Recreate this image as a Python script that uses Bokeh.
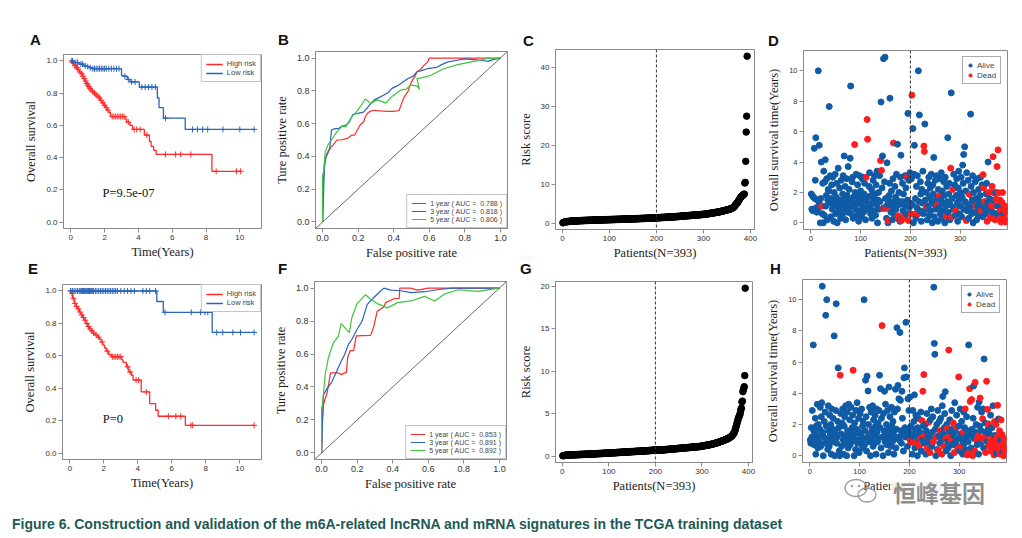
import numpy as np
from bokeh.plotting import figure
from bokeh.layouts import column, row
from bokeh.models import (Range1d, FixedTicker, NumeralTickFormatter, Legend, LegendItem,
                          Span, Slope, Label, Div, ColumnDataSource)
from bokeh.embed import file_html
from bokeh.resources import INLINE

# ---------------------------------------------------------------- data
# A: Kaplan-Meier (training set, lncRNA signature)
a_high_t = [0, 0.08, 0.15, 0.22, 0.3, 0.38, 0.45, 0.52, 0.6, 0.68, 0.75, 0.82, 0.9, 0.97, 1.03, 1.1,
            1.18, 1.25, 1.35, 1.45, 1.55, 1.65, 1.75, 1.85, 1.95, 2.05, 2.15, 2.25, 2.35, 3.2, 3.3,
            3.5, 3.65, 4.35, 4.65, 4.75, 4.9, 5.05, 8.35]
a_high_s = [1.0, 0.99, 0.98, 0.97, 0.96, 0.95, 0.94, 0.93, 0.92, 0.905, 0.89, 0.875, 0.86, 0.85, 0.84,
            0.83, 0.82, 0.81, 0.80, 0.79, 0.78, 0.77, 0.755, 0.74, 0.725, 0.71, 0.695, 0.68, 0.655,
            0.64, 0.62, 0.60, 0.575, 0.54, 0.50, 0.47, 0.445, 0.42, 0.315]
a_high_end = 10.05
a_high_cens = [0.05, 0.12, 0.25, 0.35, 0.42, 0.55, 0.65, 0.72, 0.8, 0.88, 0.95, 1.0, 1.07, 1.13, 1.2,
               1.3, 1.4, 1.5, 1.6, 1.7, 1.8, 1.9, 2.0, 2.1, 2.2, 2.45, 2.55, 2.65, 2.75, 2.85, 2.95,
               3.05, 3.15, 3.4, 3.75, 3.9, 4.1, 4.5, 5.6, 6.2, 6.5, 7.1, 8.6, 9.8, 10.05]
a_low_t = [0, 0.2, 0.5, 0.75, 0.95, 1.1, 1.25, 3.0, 3.1, 3.35, 3.5, 4.05, 5.12, 5.22, 5.48, 6.77]
a_low_s = [1.0, 0.99, 0.98, 0.97, 0.965, 0.958, 0.952, 0.91, 0.905, 0.885, 0.87, 0.838, 0.77, 0.71,
           0.645, 0.575]
a_low_end = 10.85
a_low_cens = [0.1, 0.3, 0.4, 0.6, 0.7, 0.85, 1.0, 1.15, 1.3, 1.4, 1.5, 1.6, 1.7, 1.8, 1.9, 2.0, 2.1,
              2.25, 2.4, 2.55, 2.7, 2.85, 3.2, 3.4, 3.6, 3.8, 4.2, 4.4, 4.6, 4.8, 5.0, 5.6, 7.2, 7.5,
              7.8, 8.1, 9.0, 10.0, 10.85]
a_pvalue = "P=9.5e-07"

# E: Kaplan-Meier (training set, mRNA signature)
e_high_t = [0, 0.08, 0.16, 0.26, 0.36, 0.46, 0.56, 0.65, 0.75, 0.85, 0.95, 1.05, 1.15, 1.25, 1.37,
            1.49, 1.62, 1.74, 1.84, 1.94, 2.04, 2.14, 2.28, 2.44, 3.05, 3.13, 3.33, 3.47, 3.62, 3.72,
            4.2, 4.7, 5.05, 5.2, 6.8]
e_high_s = [1.0, 0.985, 0.955, 0.924, 0.905, 0.889, 0.87, 0.852, 0.836, 0.82, 0.80, 0.78, 0.766,
            0.753, 0.74, 0.728, 0.715, 0.703, 0.685, 0.666, 0.648, 0.629, 0.608, 0.594, 0.575, 0.559,
            0.532, 0.50, 0.48, 0.45, 0.377, 0.305, 0.264, 0.227, 0.171]
e_high_end = 10.85
e_high_cens = [0.05, 0.12, 0.2, 0.3, 0.4, 0.5, 0.6, 0.7, 0.8, 0.9, 1.0, 1.1, 1.2, 1.3, 1.4, 1.55, 1.7,
               1.9, 2.2, 2.5, 2.6, 2.7, 2.8, 2.9, 3.0, 3.4, 3.55, 3.9, 4.05, 4.5, 5.8, 6.24, 6.53,
               7.13, 7.23, 10.85]
e_low_t = [0, 5.12, 5.5, 8.38]
e_low_s = [1.0, 0.935, 0.868, 0.744]
e_low_end = 10.85
e_low_cens = [0.05, 0.15, 0.25, 0.35, 0.45, 0.55, 0.6, 0.65, 0.7, 0.75, 0.8, 0.85, 0.9, 0.95, 1.0,
              1.05, 1.1, 1.15, 1.2, 1.25, 1.3, 1.35, 1.4, 1.5, 1.6, 1.7, 1.8, 1.9, 2.0, 2.1, 2.2, 2.3,
              2.4, 2.5, 2.6, 2.7, 2.8, 3.0, 3.2, 3.4, 3.6, 3.8, 4.3, 4.5, 4.7, 5.05, 5.6, 7.15, 7.7,
              7.95, 8.12, 8.65, 9.0, 9.6, 10.05, 10.85]
e_pvalue = "P=0"

km_labels = ["High risk", "Low risk"]

# B: time-dependent ROC
b_auc = [0.788, 0.818, 0.806]
b1_fpr = [0, 0.004, 0.008, 0.012, 0.02, 0.03, 0.05, 0.06, 0.08, 0.10, 0.14, 0.165, 0.18, 0.20, 0.21,
          0.23, 0.24, 0.25, 0.26, 0.28, 0.30, 0.36, 0.40, 0.43, 0.44, 0.45, 0.46, 0.47, 0.48, 0.49,
          0.50, 0.52, 0.53, 0.55, 0.57, 0.59, 0.60, 0.64, 0.68, 0.72, 0.78, 0.85, 0.92, 1.0]
b1_tpr = [0, 0.25, 0.30, 0.38, 0.40, 0.43, 0.46, 0.47, 0.50, 0.50, 0.51, 0.53, 0.53, 0.57, 0.59, 0.61,
          0.64, 0.66, 0.67, 0.68, 0.68, 0.675, 0.675, 0.68, 0.71, 0.74, 0.765, 0.78, 0.795, 0.83,
          0.855, 0.89, 0.915, 0.93, 0.955, 0.975, 1.0, 1.0, 1.0, 1.0, 1.0, 1.0, 1.0, 1.0]
b3_fpr = [0, 0.005, 0.008, 0.012, 0.02, 0.03, 0.04, 0.05, 0.07, 0.09, 0.11, 0.13, 0.15, 0.17, 0.19,
          0.21, 0.23, 0.25, 0.27, 0.29, 0.32, 0.345, 0.37, 0.39, 0.42, 0.44, 0.46, 0.48, 0.51, 0.53,
          0.56, 0.59, 0.62, 0.645, 0.67, 0.70, 0.75, 0.80, 0.85, 0.90, 0.93, 0.96, 1.0]
b3_tpr = [0, 0.15, 0.28, 0.35, 0.40, 0.42, 0.45, 0.56, 0.57, 0.57, 0.585, 0.59, 0.61, 0.655, 0.66,
          0.665, 0.67, 0.695, 0.72, 0.745, 0.76, 0.775, 0.79, 0.815, 0.83, 0.845, 0.86, 0.875, 0.89,
          0.915, 0.925, 0.935, 0.94, 0.945, 0.96, 0.975, 0.985, 0.995, 0.99, 0.985, 0.98, 0.99, 1.0]
b5_fpr = [0, 0.0, 0.005, 0.015, 0.03, 0.05, 0.08, 0.11, 0.13, 0.155, 0.17, 0.185, 0.21, 0.24, 0.27,
          0.31, 0.355, 0.39, 0.44, 0.47, 0.495, 0.53, 0.545, 0.53, 0.58, 0.61, 0.68, 0.76, 0.83,
          0.88, 0.93, 0.96, 1.0]
b5_tpr = [0, 0.29, 0.30, 0.43, 0.47, 0.50, 0.55, 0.585, 0.58, 0.625, 0.65, 0.665, 0.70, 0.75, 0.725,
          0.745, 0.725, 0.765, 0.805, 0.81, 0.835, 0.83, 0.81, 0.875, 0.885, 0.895, 0.935, 0.96,
          0.975, 0.985, 1.0, 0.995, 1.0]

# F: time-dependent ROC
f_auc = [0.853, 0.891, 0.892]
f1_fpr = [0, 0.004, 0.01, 0.02, 0.03, 0.04, 0.05, 0.095, 0.11, 0.14, 0.146, 0.16, 0.18, 0.195, 0.275,
          0.285, 0.294, 0.313, 0.35, 0.36, 0.41, 0.436, 0.44, 0.50, 0.54, 0.60, 0.73, 0.85, 1.0]
f1_tpr = [0, 0.19, 0.29, 0.33, 0.36, 0.42, 0.485, 0.485, 0.475, 0.49, 0.576, 0.62, 0.62, 0.71, 0.713,
          0.74, 0.77, 0.86, 0.886, 0.912, 0.937, 0.937, 1.0, 1.0, 0.988, 1.0, 1.0, 1.0, 1.0]
f3_fpr = [0, 0.004, 0.01, 0.03, 0.057, 0.085, 0.11, 0.13, 0.15, 0.17, 0.2, 0.228, 0.256, 0.294, 0.323,
          0.35, 0.39, 0.446, 0.503, 0.58, 0.65, 0.73, 0.85, 1.0]
f3_tpr = [0, 0.15, 0.35, 0.39, 0.43, 0.495, 0.556, 0.597, 0.657, 0.688, 0.75, 0.80, 0.90, 0.943,
          0.973, 1.0, 0.988, 0.984, 0.973, 0.978, 0.99, 1.0, 1.0, 1.0]
f5_fpr = [0, 0.0, 0.004, 0.02, 0.038, 0.066, 0.095, 0.11, 0.156, 0.17, 0.2, 0.247, 0.275, 0.313, 0.37,
          0.427, 0.503, 0.58, 0.636, 0.69, 0.77, 0.88, 1.0]
f5_tpr = [0, 0.28, 0.28, 0.475, 0.576, 0.668, 0.71, 0.784, 0.73, 0.82, 0.906, 0.96, 0.932, 0.906,
          0.88, 0.912, 0.922, 0.95, 0.922, 0.963, 0.99, 0.98, 1.0]

roc_years = [1, 3, 5]

# C: sorted risk score, 393 patients
c_risk = [
    0.20, 0.28, 0.33, 0.37, 0.40, 0.43, 0.45, 0.47, 0.49, 0.51, 0.52, 0.54, 0.55, 0.56, 0.58, 0.59, 0.60, 0.61, 0.62, 0.63,
    0.64, 0.65, 0.66, 0.66, 0.67, 0.68, 0.69, 0.69, 0.70, 0.71, 0.71, 0.72, 0.73, 0.73, 0.74, 0.74, 0.75, 0.76, 0.76, 0.77,
    0.77, 0.78, 0.78, 0.79, 0.79, 0.80, 0.80, 0.81, 0.81, 0.82, 0.82, 0.83, 0.83, 0.84, 0.84, 0.85, 0.85, 0.85, 0.86, 0.86,
    0.87, 0.87, 0.88, 0.88, 0.88, 0.89, 0.89, 0.90, 0.90, 0.90, 0.91, 0.91, 0.92, 0.92, 0.92, 0.93, 0.93, 0.94, 0.94, 0.94,
    0.95, 0.95, 0.96, 0.96, 0.96, 0.97, 0.97, 0.98, 0.98, 0.98, 0.99, 0.99, 1.00, 1.00, 1.00, 1.01, 1.01, 1.02, 1.02, 1.02,
    1.03, 1.03, 1.04, 1.04, 1.04, 1.05, 1.05, 1.06, 1.06, 1.06, 1.07, 1.07, 1.08, 1.08, 1.08, 1.09, 1.09, 1.10, 1.10, 1.10,
    1.11, 1.11, 1.12, 1.12, 1.12, 1.13, 1.13, 1.14, 1.14, 1.14, 1.15, 1.15, 1.16, 1.16, 1.16, 1.17, 1.17, 1.18, 1.18, 1.18,
    1.19, 1.19, 1.20, 1.20, 1.20, 1.21, 1.21, 1.22, 1.22, 1.22, 1.23, 1.23, 1.24, 1.24, 1.25, 1.25, 1.26, 1.26, 1.27, 1.27,
    1.28, 1.28, 1.29, 1.29, 1.30, 1.30, 1.31, 1.31, 1.32, 1.32, 1.33, 1.33, 1.34, 1.34, 1.35, 1.35, 1.36, 1.36, 1.37, 1.37,
    1.38, 1.38, 1.39, 1.39, 1.40, 1.40, 1.41, 1.42, 1.42, 1.43, 1.43, 1.44, 1.45, 1.45, 1.46, 1.46, 1.47, 1.48, 1.48, 1.49,
    1.50, 1.50, 1.51, 1.52, 1.52, 1.53, 1.54, 1.54, 1.55, 1.56, 1.56, 1.57, 1.58, 1.58, 1.59, 1.60, 1.60, 1.61, 1.62, 1.62,
    1.63, 1.64, 1.65, 1.65, 1.66, 1.67, 1.68, 1.68, 1.69, 1.70, 1.71, 1.71, 1.72, 1.73, 1.74, 1.75, 1.75, 1.76, 1.77, 1.78,
    1.79, 1.80, 1.80, 1.81, 1.82, 1.83, 1.84, 1.85, 1.86, 1.87, 1.88, 1.89, 1.90, 1.91, 1.92, 1.93, 1.94, 1.95, 1.96, 1.97,
    1.98, 1.99, 2.00, 2.01, 2.02, 2.03, 2.04, 2.05, 2.06, 2.07, 2.08, 2.09, 2.10, 2.11, 2.12, 2.13, 2.14, 2.15, 2.16, 2.17,
    2.18, 2.19, 2.20, 2.21, 2.22, 2.23, 2.24, 2.25, 2.26, 2.27, 2.28, 2.29, 2.30, 2.31, 2.32, 2.33, 2.34, 2.35, 2.36, 2.38,
    2.39, 2.41, 2.42, 2.44, 2.45, 2.47, 2.48, 2.50, 2.52, 2.54, 2.56, 2.58, 2.60, 2.62, 2.64, 2.66, 2.68, 2.70, 2.72, 2.74,
    2.76, 2.78, 2.80, 2.82, 2.84, 2.86, 2.88, 2.90, 2.92, 2.94, 2.96, 2.98, 3.00, 3.03, 3.06, 3.09, 3.12, 3.15, 3.18, 3.21,
    3.24, 3.27, 3.30, 3.33, 3.36, 3.39, 3.42, 3.45, 3.48, 3.51, 3.54, 3.57, 3.60, 3.64, 3.68, 3.72, 3.76, 3.80, 3.85, 3.90,
    3.96, 4.02, 4.10, 4.20, 4.30, 4.45, 4.60, 4.75, 4.90, 5.05, 5.20, 5.35, 5.50, 5.70, 5.90, 6.10, 6.30, 6.50, 6.70, 6.90,
    7.00, 7.10, 7.20, 7.30, 7.40, 7.50, 7.60, 10.40, 10.60, 16.00, 23.50, 27.60, 43.00]

# G: sorted risk score, 393 patients
g_risk = [
    0.05, 0.07, 0.08, 0.09, 0.10, 0.10, 0.11, 0.11, 0.12, 0.12, 0.13, 0.13, 0.13, 0.14, 0.14, 0.14, 0.15, 0.15, 0.15, 0.16,
    0.16, 0.16, 0.16, 0.17, 0.17, 0.17, 0.17, 0.18, 0.18, 0.18, 0.18, 0.19, 0.19, 0.19, 0.19, 0.20, 0.20, 0.20, 0.20, 0.21,
    0.21, 0.21, 0.21, 0.22, 0.22, 0.22, 0.22, 0.23, 0.23, 0.23, 0.23, 0.24, 0.24, 0.24, 0.24, 0.25, 0.25, 0.25, 0.25, 0.26,
    0.26, 0.26, 0.26, 0.27, 0.27, 0.27, 0.28, 0.28, 0.28, 0.28, 0.29, 0.29, 0.29, 0.30, 0.30, 0.30, 0.30, 0.31, 0.31, 0.31,
    0.32, 0.32, 0.32, 0.32, 0.33, 0.33, 0.33, 0.34, 0.34, 0.34, 0.34, 0.35, 0.35, 0.35, 0.36, 0.36, 0.36, 0.37, 0.37, 0.37,
    0.38, 0.38, 0.38, 0.39, 0.39, 0.39, 0.40, 0.40, 0.40, 0.41, 0.41, 0.41, 0.42, 0.42, 0.42, 0.43, 0.43, 0.43, 0.44, 0.44,
    0.44, 0.45, 0.45, 0.45, 0.46, 0.46, 0.46, 0.47, 0.47, 0.47, 0.48, 0.48, 0.48, 0.49, 0.49, 0.49, 0.50, 0.50, 0.50, 0.51,
    0.51, 0.51, 0.52, 0.52, 0.52, 0.53, 0.53, 0.53, 0.54, 0.54, 0.54, 0.55, 0.55, 0.55, 0.56, 0.56, 0.56, 0.57, 0.57, 0.57,
    0.58, 0.58, 0.58, 0.59, 0.59, 0.59, 0.60, 0.60, 0.60, 0.61, 0.61, 0.61, 0.62, 0.62, 0.62, 0.63, 0.63, 0.63, 0.64, 0.64,
    0.64, 0.65, 0.65, 0.66, 0.66, 0.66, 0.67, 0.67, 0.68, 0.68, 0.68, 0.69, 0.69, 0.70, 0.70, 0.71, 0.71, 0.71, 0.72, 0.72,
    0.72, 0.72, 0.72, 0.72, 0.72, 0.73, 0.73, 0.73, 0.73, 0.73,
    0.73, 0.73, 0.74, 0.74, 0.74, 0.75, 0.75, 0.76, 0.76, 0.77, 0.77, 0.78, 0.78, 0.79, 0.79, 0.80, 0.80, 0.81, 0.81, 0.82,
    0.82, 0.83, 0.83, 0.84, 0.84, 0.85, 0.85, 0.86, 0.86, 0.87, 0.87, 0.88, 0.88, 0.89, 0.89, 0.90, 0.90, 0.91, 0.91, 0.92,
    0.92, 0.93, 0.93, 0.94, 0.94, 0.95, 0.95, 0.96, 0.96, 0.97, 0.97, 0.98, 0.98, 0.99, 0.99, 1.00, 1.00, 1.01, 1.01, 1.02,
    1.02, 1.03, 1.03, 1.04, 1.04, 1.05, 1.05, 1.06, 1.06, 1.07, 1.07, 1.08, 1.08, 1.09, 1.09, 1.10, 1.10, 1.11, 1.11, 1.12,
    1.12, 1.13, 1.13, 1.14, 1.14, 1.15, 1.16, 1.17, 1.18, 1.19, 1.20, 1.21, 1.22, 1.23, 1.24, 1.25, 1.26, 1.27, 1.28, 1.29,
    1.30, 1.31, 1.32, 1.33, 1.34, 1.35, 1.36, 1.37, 1.38, 1.40, 1.41, 1.42, 1.44, 1.45, 1.47, 1.48, 1.50, 1.51, 1.53, 1.54,
    1.56, 1.57, 1.59, 1.61, 1.63, 1.65, 1.67, 1.69, 1.71, 1.73, 1.75, 1.77, 1.79, 1.81, 1.83, 1.85, 1.87, 1.89, 1.92, 1.94,
    1.96, 1.98, 2.01, 2.03, 2.06, 2.09, 2.12, 2.15, 2.18, 2.21, 2.25, 2.29, 2.33, 2.38, 2.44, 2.50, 2.58, 2.66, 2.75, 2.85,
    3.00, 3.20, 3.40, 3.60, 3.80, 4.00, 4.20, 4.40, 4.55, 4.70, 4.80, 5.00, 5.30, 5.60, 5.65, 6.40, 6.50, 7.60, 7.80, 8.00,
    8.20, 9.50, 19.80]

# D: survival time per patient (ordered by risk) and status (1 = dead)
d_time = [
    1.9, 0.9, 1.8, 0.8, 1.7, 0.9, 4.9, 1.6, 2.8, 5.6, 1.0, 0.7, 1.5, 0.8, 10.0, 1.4, 5.1, 1.2, 0.0, 1.6,
    4.0, 1.1, 0.6, 2.6, 0.0, 3.4, 0.5, 2.7, 4.15, 1.1, 1.8, 2.9, 0.2, 1.5, 2.2, 2.1, 7.65, 1.3, 3.1, 0.4,
    1.6, 2.5, 0.9, 3.0, 1.2, 0.1, 2.0, 1.4, 3.2, 0.6, 1.7, 2.6, 0.0, 1.1, 3.6, 0.8, 1.5, 2.3, 1.0, 0.3,
    2.8, 1.3, 0.5, 1.9, 3.1, 0.9, 4.4, 1.6, 2.4, 0.2, 1.2, 2.9, 1.8, 0.7, 3.7, 1.5, 2.2, 1.0, 4.25, 9.0,
    0.6, 1.4, 2.7, 3.0, 0.3, 1.7, 1.1, 5.15, 2.0, 0.9, 3.2, 1.3, 0.5, 2.5, 1.8, 0.1, 1.6, 3.1, 0.8, 2.1,
    1.2, 0.4, 2.9, 1.5, 3.0, 0.7, 1.9, 2.6, 1.0, 0.2, 3.0, 1.4, 6.8, 5.5, 1.7, 0.9, 2.4, 3.3, 1.1, 0.6,
    1.8, 2.2, 0.3, 1.3, 2.8, 1.6, 0.8, 3.1, 1.9, 0.5, 2.5, 1.2, 3.4, 0.0, 1.5, 2.0, 0.9, 3.1, 1.4, 4.1,
    7.95, 3.45, 2.3, 4.4, 0.95, 10.8, 1.0, 2.7, 10.9, 1.6, 0.95, 0.3, 3.95, 1.2, 0.0, 0.15, 1.8, 2.6, 8.2, 1.4,
    0.7, 2.1, 1.1, 0.2, 2.9, 5.25, 1.3, 0.5, 2.4, 1.7, 0.9, 3.2, 1.5, 5.17, 0.47, 0.26, 2.0, 1.2, 0.1, 3.0,
    4.45, 0.15, 1.4, 2.6, 0.8, 1.9, 0.4, 0.37, 3.1, 1.1, 2.3, 0.6, 3.0, 1.5, 7.2, 0.15, 2.8, 1.0, 3.3, 1.3,
    0.58, 2.9, 8.4, 1.2, 6.2, 0.0, 3.2, 5.1, 0.58, 1.6, 0.3, 2.4, 1.0, 3.1, 0.58, 10.0, 1.4, 7.1, 0.8, 2.7,
    1.9, 0.1, 2.2, 1.3, 3.4, 0.6, 5.05, 4.7, 6.5, 1.5, 0.9, 2.0, 1.08, 0.2, 2.6, 1.1, 3.0, 0.5, 1.7, 2.3,
    0.8, 3.2, 1.4, 0.0, 2.5, 1.9, 4.3, 0.4, 1.2, 2.8, 0.9, 3.1, 1.6, 1.16, 0.1, 2.2, 1.0, 1.77, 2.9, 0.6,
    1.5, 3.3, 0.3, 2.1, 1.3, 0.8, 2.7, 1.8, 0.0, 3.0, 1.1, 0.43, 2.4, 1.4, 5.6, 0.7, 1.9, 2.6, 0.2, 1.2,
    3.6, 8.55, 0.37, 1.6, 2.2, 0.9, 3.2, 1.0, 2.5, 0.5, 0.84, 1.8, 2.9, 1.3, 0.1, 2.3, 3.4, 1.5, 0.6, 2.0,
    1.1, 3.0, 0.4, 1.7, 3.8, 2.6, 4.5, 0.9, 5.0, 1.4, 2.1, 0.15, 3.3, 0.8, 1.2, 2.8, 0.3, 1.9, 1.87, 1.0,
    7.15, 2.4, 0.6, 1.5, 3.1, 0.0, 2.0, 1.3, 0.7, 2.7, 1.12, 1.6, 0.2, 2.9, 1.1, 0.5, 2.2, 1.4, 0.9, 1.8,
    3.0, 0.8, 1.2, 2.5, 0.4, 3.17, 2.3, 1.0, 1.4, 9.78, 0.6, 1.9, 2.6, 0.1, 1.3, 4.0, 0.9, 2.0, 1.6, 0.3,
    1.1, 0.43, 1.12, 2.4, 0.7, 4.35, 1.5, 1.98, 1.12, 0.2, 2.0, 1.55, 0.6, 3.7, 1.1, 4.8, 1.98, 0.4, 0.26, 1.5,
    0.8, 0.05, 1.2, 1.34, 2.0, 0.47, 0.6, 0.9, 0.26, 1.1, 0.05, 0.7, 0.8]
d_status = ("00000000000000000000" "01000000000000000000" "00000000000000000000" "00000000000000000000"
            "00000001000000000000" "00000000001011000000" "00000000000000000001" "01001000001000010000"
            "00000100000000110000" "01000001000010010000" "10100000100000100000" "00000011000010000000"
            "00000000000001000100" "00000000000100000000" "10101000001000000000" "00000000000100000010"
            "00000000001000000000" "01000110100001000101" "01110101110101011011" "1101110111111")

# H: survival time per patient (ordered by risk) and status (1 = dead)
h_time = [
    1.0, 0.8, 1.8, 1.2, 2.9, 0.9, 7.1, 1.6, 0.7, 1.4, 2.4, 0.1, 1.9, 1.1, 3.3, 0.5, 2.0, 1.3, 0.9, 1.7,
    3.1, 0.6, 2.5, 3.4, 10.86, 1.5, 0.0, 1.2, 2.2, 0.8, 2.8, 9.0, 1.9, 10.0, 1.0, 0.4, 3.2, 1.6, 0.6, 2.6,
    1.3, 2.0, 0.1, 3.0, 0.9, 1.7, 2.4, 1.1, 7.68, 0.0, 1.5, 2.9, 9.74, 0.8, 1.2, 2.2, 5.63, 1.8, 0.3, 0.0,
    5.16, 2.7, 1.4, 0.6, 2.1, 3.0, 1.0, 0.1, 1.9, 2.5, 0.8, 3.2, 1.3, 0.0, 2.8, 1.6, 0.5, 3.3, 1.1, 2.3,
    0.7, 1.5, 3.1, 0.9, 1.8, 2.6, 5.48, 1.2, 0.0, 2.1, 1.4, 0.4, 2.9, 1.7, 3.4, 0.8, 1.0, 2.4, 0.2, 1.5,
    2.7, 0.9, 1.3, 3.0, 0.5, 1.9, 2.2, 1.1, 10.0, 0.7, 1.6, 4.84, 2.5, 0.3, 5.1, 1.2, 4.15, 2.0, 0.9, 3.1,
    1.4, 0.0, 2.8, 1.0, 1.7, 3.2, 0.6, 2.3, 1.3, 0.8, 2.6, 1.9, 0.1, 3.0, 1.5, 0.9, 2.1, 1.1, 2.9, 5.16,
    1.8, 4.3, 0.5, 2.4, 8.34, 1.2, 0.0, 2.7, 1.6, 4.13, 0.9, 3.3, 1.4, 2.0, 0.7, 2.9, 1.0, 0.2, 4.4, 1.7,
    2.5, 1.3, 0.6, 3.1, 1.9, 0.9, 2.2, 1.5, 0.1, 2.8, 1.1, 4.26, 0.5, 1.7, 8.2, 3.0, 4.5, 1.2, 3.65, 1.0,
    7.9, 3.55, 1.6, 0.8, 4.13, 2.4, 1.4, 0.3, 5.0, 5.63, 1.8, 1.2, 8.55, 5.05, 1.5, 0.6, 3.65, 1.7, 2.9, 1.1,
    3.76, 0.97, 1.9, 0.86, 1.4, 0.1, 2.9, 1.2, 2.2, 3.9, 0.5, 1.7, 2.6, 0.9, 1.3, 0.0, 1.8, 2.4, 1.1, 0.6,
    1.5, 1.07, 2.8, 0.3, 2.25, 1.0, 4.13, 1.9, 5.2, 0.8, 1.3, 2.0, 0.1, 1.6, 2.7, 0.5, 1.2, 0.9, 2.15, 1.4,
    0.2, 2.3, 1.1, 3.0, 0.6, 1.5, 2.5, 0.9, 10.8, 7.2, 6.5, 1.7, 0.0, 1.2, 2.0, 0.4, 2.9, 0.35, 1.3, 2.2,
    0.8, 1.6, 2.4, 1.0, 0.1, 3.2, 3.8, 1.4, 0.6, 1.8, 2.7, 4.1, 1.1, 0.3, 2.0, 1.75, 0.9, 0.5, 6.77, 1.5,
    2.3, 1.2, 0.0, 1.0, 2.9, 1.7, 0.7, 2.1, 1.3, 0.2, 3.4, 1.6, 0.9, 1.85, 2.6, 0.6, 1.1, 0.45, 5.05, 1.9,
    0.3, 3.0, 1.4, 0.6, 2.2, 1.0, 0.1, 1.5, 2.8, 0.8, 1.8, 3.0, 0.4, 1.2, 2.5, 0.05, 1.6, 0.9, 7.1, 0.2,
    4.3, 3.48, 1.3, 0.5, 3.6, 1.7, 0.0, 2.4, 4.47, 1.1, 0.3, 4.7, 1.5, 2.0, 1.0, 0.7, 3.1, 1.3, 0.1, 3.45,
    1.9, 3.7, 0.8, 1.6, 2.8, 1.1, 2.37, 3.0, 0.5, 6.2, 1.2, 2.1, 0.2, 1.5, 4.77, 0.9, 2.97, 1.7, 2.04, 0.6,
    1.4, 0.9, 2.6, 0.3, 1.1, 1.8, 0.7, 3.2, 1.0, 0.05, 2.2, 1.3, 0.5, 2.0, 0.15, 1.2, 3.23, 0.8, 2.36, 0.4,
    1.6, 0.1, 1.0, 2.3, 0.5, 1.35, 0.2, 0.8, 0.0, 1.1, 0.45, 0.3, 0.6]
h_status = ("00000000000000000000" "00000000000000000000" "00000000000000000000" "10000000000000000000"
            "00000010000000000000" "00000000000000000000" "00000000000000000000" "00001000000000000000"
            "00000000000000000000" "00000000000000000000" "01010000000001000001" "01001010101000010010"
            "10000001000001000100" "01001000100010010010" "01010001010001000110" "00010001000100010001"
            "11001010001100100100" "01000110001010101011" "01011010111011011101" "1101110111111")

status_labels = ["Alive", "Dead"]
risk_cutoff = 200

# axis ticks
km_xticks = [0, 2, 4, 6, 8, 10]
unit_ticks = [0.0, 0.2, 0.4, 0.6, 0.8, 1.0]
pat_ticks_c = [0, 100, 200, 300, 400]
pat_ticks_d = [0, 100, 200, 300]
c_yticks = [0, 10, 20, 30, 40]
g_yticks = [0, 5, 10, 15, 20]
os_yticks = [0, 2, 4, 6, 8, 10]

panel_letters = ["A", "B", "C", "D", "E", "F", "G", "H"]
caption = ("Figure 6. Construction and validation of the m6A-related lncRNA and mRNA "
           "signatures in the TCGA training dataset")
watermark = "恒峰基因"

# ---------------------------------------------------------------- style
SANS = "Liberation Sans"
SERIF = "Liberation Serif"
GRAY = "#8a8a8a"
RED = "#ff2a2a"
BLUE = "#2a64b8"
GREEN = "#3ec43e"
PT_BLUE = "#0f5ba6"
PT_RED = "#ff1c1c"


def rng(lo, hi):
    d = (hi - lo) * 0.04
    return Range1d(lo - d, hi + d)


def base(w, h, l, r, t, b, xr, yr, xticks, yticks, xlabel, ylabel, tick_fs,
         unit_fmt_x=False, unit_fmt_y=False):
    p = figure(width=w, height=h, x_range=xr, y_range=yr, output_backend="svg",
               toolbar_location=None, min_border_left=l, min_border_right=r,
               min_border_top=t, min_border_bottom=b)
    p.grid.visible = False
    p.outline_line_color = GRAY
    p.outline_line_width = 1
    p.outline_line_alpha = 1
    p.background_fill_color = "white"
    p.border_fill_color = "white"
    p.xaxis.ticker = FixedTicker(ticks=xticks)
    p.yaxis.ticker = FixedTicker(ticks=yticks)
    if unit_fmt_x:
        p.xaxis.formatter = NumeralTickFormatter(format="0.0")
    if unit_fmt_y:
        p.yaxis.formatter = NumeralTickFormatter(format="0.0")
    p.xaxis.axis_label = xlabel
    p.yaxis.axis_label = ylabel
    for ax in (p.xaxis, p.yaxis):
        ax.axis_line_color = GRAY
        ax.major_tick_line_color = GRAY
        ax.minor_tick_line_color = None
        ax.major_tick_out = 4
        ax.major_tick_in = 0
        ax.major_label_text_font = SANS
        ax.major_label_text_font_size = tick_fs
        ax.major_label_text_color = "#333333"
        ax.axis_label_text_font = SERIF
        ax.axis_label_text_font_size = "12.5px"
        ax.axis_label_text_font_style = "normal"
        ax.axis_label_text_color = "#1a1a1a"
    p.xaxis.major_label_standoff = 2
    p.xaxis.axis_label_standoff = 2
    p.yaxis.major_label_standoff = 2
    p.yaxis.axis_label_standoff = 5
    return p


def km_curve(p, times, surv, end, cens, color):
    xs = list(times) + [end]
    ys = list(surv) + [surv[-1]]
    r = p.step(xs, ys, mode="after", line_color=color, line_width=1.3)
    idx = np.searchsorted(np.array(times), np.array(cens), side="right") - 1
    cy = np.array(surv)[idx]
    p.scatter(cens, cy, marker="cross", size=6, line_color=color, line_width=1)
    return r


def km_panel(spec, hi, lo, pval, pval_xy):
    w, h, l, r, t, b = spec
    tmax = max(hi[2], lo[2], max(hi[3]), max(lo[3]))
    p = base(w, h, l, r, t, b, rng(0, tmax), rng(0, 1), km_xticks, unit_ticks,
             "Time(Years)", "Overall survival", "8px", unit_fmt_y=True)
    r_hi = km_curve(p, *hi, RED)
    r_lo = km_curve(p, *lo, BLUE)
    leg = Legend(items=[LegendItem(label=km_labels[0], renderers=[r_hi]),
                        LegendItem(label=km_labels[1], renderers=[r_lo])],
                 location="top_right", margin=0, padding=4, spacing=0,
                 label_text_font=SANS, label_text_font_size="7.5px", label_height=8,
                 glyph_height=8, glyph_width=17, label_standoff=4,
                 border_line_color=GRAY, border_line_width=1)
    p.add_layout(leg)
    p.add_layout(Label(x=pval_xy[0], y=pval_xy[1], text=pval, text_font=SERIF,
                       text_font_size="12.5px", text_baseline="middle", text_color="#111111"))
    return p


def roc_panel(spec, curves, aucs):
    w, h, l, r, t, b = spec
    p = base(w, h, l, r, t, b, rng(0, 1), rng(0, 1), unit_ticks, unit_ticks,
             "False positive rate", "Ture positive rate", "9px", True, True)
    p.add_layout(Slope(gradient=1, y_intercept=0, line_color="#444444", line_width=0.8))
    items = []
    for (fpr, tpr), col, yr, auc in zip(curves, [RED, BLUE, GREEN], roc_years, aucs):
        rr = p.line(fpr, tpr, line_color=col, line_width=1.2)
        items.append(LegendItem(label=f"{yr} year ( AUC =  {auc:.3f} )", renderers=[rr]))
    leg = Legend(items=items, location="bottom_right", margin=0, padding=4, spacing=0,
                 label_text_font=SANS, label_text_font_size="7px", label_height=8,
                 glyph_height=8, glyph_width=15, label_standoff=4,
                 border_line_color=GRAY, border_line_width=1)
    p.add_layout(leg)
    return p


def risk_panel(spec, risk, yticks):
    w, h, l, r, t, b = spec
    n = len(risk)
    x = list(range(1, n + 1))
    p = base(w, h, l, r, t, b, rng(1, n), rng(min(risk), max(risk)), pat_ticks_c, yticks,
             f"Patients(N={n})", "Risk score", "8px")
    p.scatter(x, risk, size=6.5, fill_color="black", line_color="black")
    p.add_layout(Span(location=risk_cutoff, dimension="height", line_dash="3 2",
                      line_color="#333333", line_width=1))
    return p


def status_panel(spec, times, status):
    w, h, l, r, t, b = spec
    n = len(times)
    x = list(range(1, n + 1))
    cols = [PT_RED if s == "1" else PT_BLUE for s in status]
    xr = rng(1, n)
    xr.end = 395
    p = base(w, h, l, r, t, b, xr, rng(0, max(times)), pat_ticks_d, os_yticks,
             f"Patients(N={n})", "Overall survival time(Years)", "7.5px")
    src = ColumnDataSource(dict(x=x, y=times, c=cols))
    rr = p.scatter("x", "y", source=src, size=6, fill_color="c", line_color="c")
    p.add_layout(Span(location=risk_cutoff, dimension="height", line_dash="3 2",
                      line_color="#333333", line_width=1))
    i_alive = status.index("0")
    i_dead = status.index("1")
    leg = Legend(items=[LegendItem(label=status_labels[0], renderers=[rr], index=i_alive),
                        LegendItem(label=status_labels[1], renderers=[rr], index=i_dead)],
                 location="top_right", margin=6, padding=3, spacing=0,
                 label_text_font=SANS, label_text_font_size="8px", label_height=9,
                 glyph_height=10, glyph_width=8, label_standoff=3,
                 border_line_color="#555555", border_line_width=1)
    p.add_layout(leg)
    return p


# spec: width, height, min_border left, right, top, bottom
ROW1_H = 254
ROW2_H = 241
pA = km_panel((262, ROW1_H, 55, 9, 46, 34),
              (a_high_t, a_high_s, a_high_end, a_high_cens),
              (a_low_t, a_low_s, a_low_end, a_low_cens), a_pvalue, (1.88, 0.18))
pB = roc_panel((245, ROW1_H, 45, 8, 43, 33),
               [(b1_fpr, b1_tpr), (b3_fpr, b3_tpr), (b5_fpr, b5_tpr)], b_auc)
pC = risk_panel((245, ROW1_H, 39, 6, 41, 31), c_risk, c_yticks)
pD = status_panel((254, ROW1_H, 43, 7, 42, 31), d_time, d_status)

pE = km_panel((262, ROW2_H, 54, 9, 22, 44),
              (e_high_t, e_high_s, e_high_end, e_high_cens),
              (e_low_t, e_low_s, e_low_end, e_low_cens), e_pvalue, (1.94, 0.208))
pF = roc_panel((245, ROW2_H, 44, 9, 19, 44),
               [(f1_fpr, f1_tpr), (f3_fpr, f3_tpr), (f5_fpr, f5_tpr)], f_auc)
pG = risk_panel((245, ROW2_H, 38, 8, 19, 41), g_risk, g_yticks)
pH = status_panel((254, ROW2_H, 42, 8, 17, 41), h_time, h_status)

# overlay texts placed in the caption block (page-relative offsets from its top-left corner)
CAP_TOP = 8 + ROW1_H + ROW2_H
letter_pos = [(30, 39), (278, 39), (523, 40), (768, 40), (28, 268.5), (278, 268.5), (520, 268.5), (770, 268.5)]
letters_html = "".join(
    f'<span style="position:absolute;left:{x - 8}px;top:{cy - 7.3 - CAP_TOP:.1f}px;'
    f'font-family:\'Liberation Sans\',Arial,sans-serif;font-weight:bold;font-size:15px;'
    f'line-height:15px;color:#111111;">{t}</span>'
    for t, (x, cy) in zip(panel_letters, letter_pos))
logo_svg = ('<svg width="40" height="28" style="position:absolute;left:834px;top:-26px;">'
            '<ellipse cx="14" cy="11" rx="11" ry="8.5" fill="none" stroke="#9a9a9a" stroke-width="1.3"/>'
            '<ellipse cx="25" cy="18" rx="9" ry="7" fill="none" stroke="#9a9a9a" stroke-width="1.3"/>'
            '<circle cx="10" cy="9" r="1.2" fill="#9a9a9a"/><circle cx="17" cy="9" r="1.2" fill="#9a9a9a"/>'
            '</svg>')
wm_html = (f'<span style="position:absolute;left:882px;top:-24px;font-family:\'Noto Sans CJK SC\';'
           f'font-size:23px;line-height:26px;color:#8d8d8d;background:rgba(255,255,255,0.85);'
           f'padding:0 3px;">{watermark}</span>')
cap = Div(text=(f'<div style="position:relative;font-family:\'Liberation Sans\',Arial,sans-serif;'
                f'font-weight:bold;font-size:14px;color:#1d5a56;padding-top:11px;padding-left:4px;'
                f'white-space:nowrap;">{caption}{letters_html}{logo_svg}{wm_html}</div>'),
          width=1006, height=24, margin=(0, 0, 0, 0), styles={"overflow": "visible"})

layout = column(row(column(pA), column(pB), column(pC), column(pD)),
                row(column(pE), column(pF), column(pG), column(pH)),
                cap, margin=(8, 0, 0, 8))

with open("out.html", "w") as fh:
    fh.write(file_html(layout, INLINE))
